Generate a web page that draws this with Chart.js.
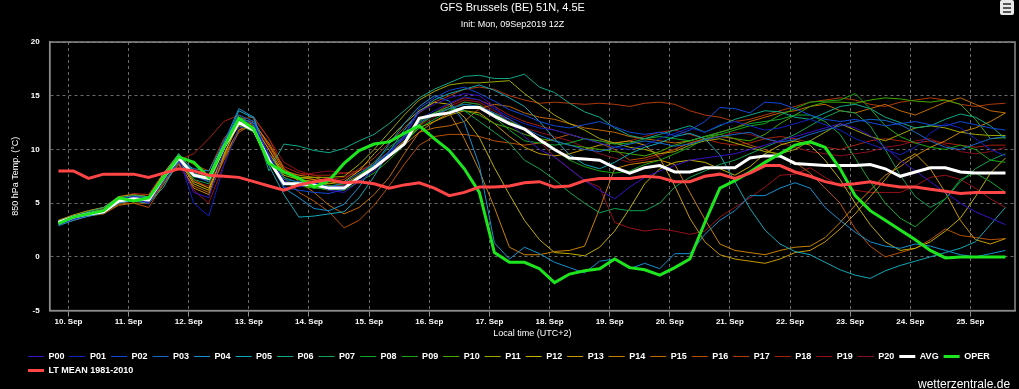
<!DOCTYPE html>
<html>
<head>
<meta charset="utf-8">
<script src="https://cdn.jsdelivr.net/npm/chart.js@4.4.0/dist/chart.umd.min.js"></script>
<style>
  html, body { margin: 0; padding: 0; background: #000; }
  #wrap { position: relative; width: 1019px; height: 389px; overflow: hidden; }
  #menu { position: absolute; left: 1000px; top: 0; width: 14px; height: 15px; background: #e8e8e8; border-radius: 2px; }
  #menu span { position: absolute; left: 3px; width: 8px; height: 2px; background: #555; }
  #credit { position: absolute; left: 918px; top: 377px; font: 12px "Liberation Sans", Arial, sans-serif; color: #fff; }
</style>
</head>
<body>
<div id="wrap">
  <canvas id="chart-ens" width="1019" height="389"></canvas>
  <div id="menu"><span style="top:3px"></span><span style="top:7px"></span><span style="top:11px"></span></div>
  <div id="credit">wetterzentrale.de</div>
</div>
<script>
// hours since 10 Sep 00:00 local, one step every 6h (09Sep 20h .. 25Sep 14h)
const runHours = Array.from({ length: 64 }, (_, i) => -4 + 6 * i);
const dayLabels = ['10. Sep', '11. Sep', '12. Sep', '13. Sep', '14. Sep', '15. Sep', '16. Sep', '17. Sep',
                   '18. Sep', '19. Sep', '20. Sep', '21. Sep', '22. Sep', '23. Sep', '24. Sep', '25. Sep'];

const p00 = [3.0,3.5,3.9,4.3,5.3,5.5,5.0,7.2, 9.0,6.0,5.5,9.8,12.8,12.0,9.5,7.0, 6.5,6.8,6.2,6.0,7.0,8.0,9.5,11.2,
             13.5,14.2,14.8,15.2,15.0,14.0,12.5,11.2, 10.0,9.3,8.2,7.1,6.2,5.4,6.5,7.4, 8.0,8.5,9.0,9.2,9.4,9.6,10.0,10.4,
             10.8,11.2,11.6,12.0,12.4,12.0,11.3,10.2, 9.0,8.0,7.0,6.0,5.0,4.2,3.6,3.0];
const p01 = [3.1,3.6,4.0,4.4,5.4,5.6,5.4,7.6, 9.3,5.0,3.8,8.5,12.0,12.3,9.6,7.0, 6.8,6.9,6.5,6.6,7.2,8.4,9.8,11.0,
             12.8,13.6,14.3,14.9,14.6,13.8,13.0,12.4, 12.0,11.8,11.4,11.0,10.6,10.2,10.0,10.4, 11.0,11.5,12.0,11.6,12.3,12.6,12.2,11.8,
             12.0,12.4,12.8,12.3,11.8,11.0,10.5,10.0, 9.5,10.2,11.5,12.4,12.0,11.0,10.0,9.4];
const p02 = [3.3,3.8,4.1,4.3,5.2,5.3,5.1,7.0, 8.8,7.5,7.0,10.5,12.9,12.4,9.2,6.5, 6.2,6.0,5.9,6.3,7.3,8.4,9.6,11.3,
             13.8,14.8,15.5,15.8,15.2,14.5,13.7,13.2, 12.6,12.2,12.0,12.3,12.6,12.1,11.6,11.4, 11.6,11.3,11.8,12.6,13.9,13.8,13.4,14.4,
             14.3,13.8,13.2,12.8,12.6,12.8,12.5,12.2, 12.4,12.6,12.3,12.2,12.6,12.3,12.0,11.8];
const p03 = [3.0,3.5,3.9,4.2,5.1,5.6,5.5,7.5, 9.4,7.8,7.2,10.8,13.2,12.6,9.4,7.2, 7.0,6.8,6.5,6.9,7.8,8.6,9.8,11.0,
             12.5,13.2,13.8,14.2,14.0,13.4,12.8,12.0, 11.3,10.8,10.4,10.0,9.8,10.2,10.5,10.8, 10.6,10.3,10.5,10.9,11.2,11.4,11.6,11.0,
             10.7,10.9,11.4,11.8,12.2,12.6,12.8,12.7, 12.3,11.6,10.8,10.2,10.0,10.5,11.0,11.2];
const p04 = [2.9,3.4,3.8,4.1,5.0,5.3,5.2,7.3, 9.0,8.2,8.0,10.6,13.8,13.0,9.0,6.4, 5.5,4.5,4.3,4.9,6.5,8.6,10.5,12.4,
             14.0,15.0,14.5,12.5,8.5,1.3,-0.2,0.9, 0.3,-0.5,-1.0,-1.5,-0.4,-0.2,-1.1,-0.6, -1.1,0.3,0.3,2.1,3.4,4.3,5.7,5.7,
             6.4,6.9,6.4,4.6,3.4,2.3,1.4,1.0, 0.8,1.2,1.0,0.6,0.2,0.0,0.3,0.6];
const p05 = [3.0,3.5,3.8,4.1,5.1,5.2,5.0,6.5, 9.0,8.0,7.5,10.3,13.6,12.9,8.5,5.8, 3.7,3.8,4.0,4.2,5.5,7.5,9.8,11.8,
             13.5,14.6,15.2,15.6,16.0,15.5,14.8,14.0, 12.6,11.0,9.5,8.6,8.2,8.8,9.6,10.2, 10.6,11.2,11.5,11.0,9.5,7.0,4.5,2.5,
             1.2,0.5,0.2,-0.5,-1.2,-1.7,-2.0,-1.3, -0.8,-0.4,0.0,0.4,0.8,1.4,3.0,4.6];
const p06 = [3.3,3.8,4.2,4.6,5.5,5.7,5.6,7.6, 9.6,8.0,7.6,10.6,13.0,12.4,8.0,10.5, 10.3,9.9,9.7,10.1,10.8,11.4,12.4,13.6,
             14.8,15.6,16.2,16.8,16.9,16.6,16.6,17.0, 15.8,15.3,14.3,13.5,13.0,12.0,11.3,11.0, 11.4,11.8,12.2,11.6,12.2,12.8,13.2,13.6,
             13.5,13.0,12.8,13.4,14.0,14.2,13.8,13.0, 12.5,12.0,12.2,12.8,13.3,13.0,12.2,11.0];
const p07 = [3.1,3.6,4.0,4.3,5.3,5.2,5.4,7.3, 9.2,7.2,6.8,10.0,12.6,11.9,9.4,7.4, 6.9,6.6,6.3,6.4,7.6,8.8,10.2,11.2,
             12.6,13.4,14.0,13.6,12.6,11.6,10.6,9.0, 8.2,7.2,6.0,5.0,4.1,4.5,4.3,4.3, 5.0,6.5,7.4,8.0,8.6,9.0,9.6,10.2,
             10.8,11.4,12.2,13.0,13.6,13.4,12.2,10.0, 7.6,5.6,4.6,5.4,7.0,8.2,9.0,9.6];
const p08 = [3.2,3.7,4.1,4.4,5.3,5.6,5.3,7.2, 9.3,7.6,7.0,10.2,12.4,12.0,9.2,7.0, 6.9,7.0,6.6,6.8,7.4,8.6,9.6,10.6,
             12.0,12.8,13.6,14.4,14.2,13.0,11.8,10.8, 10.6,10.4,10.6,11.0,10.8,10.5,10.6,11.0, 11.2,11.0,10.8,11.2,11.6,12.0,12.4,12.6,
             12.8,13.2,13.2,12.6,11.4,9.2,7.0,5.0, 3.6,2.8,4.0,5.4,7.2,7.8,7.0,6.0];
const p09 = [3.0,3.6,4.0,4.2,5.2,5.4,5.3,7.5, 9.5,7.4,7.4,10.4,12.3,11.6,9.0,7.0, 6.6,6.4,6.3,6.2,7.0,7.8,9.0,10.4,
             12.3,13.2,13.8,14.2,14.0,13.3,12.6,12.0, 11.0,10.0,9.0,8.4,8.0,7.8,8.0,8.6, 9.0,9.6,10.2,11.0,11.4,11.8,12.2,12.4,
             13.2,13.8,14.4,14.5,14.6,15.2,13.8,12.2, 11.2,10.6,10.2,10.0,10.4,10.0,9.0,8.8];
const p10 = [3.2,3.6,4.1,4.3,5.4,5.5,5.5,7.6, 9.4,7.8,7.4,10.4,12.8,12.1,9.0,6.8, 6.6,6.5,6.2,6.4,7.6,8.6,9.8,11.2,
             12.8,13.4,13.8,13.6,13.2,12.4,12.0,11.4, 11.0,10.8,10.4,10.2,10.0,9.8,9.6,9.4, 9.8,10.4,10.8,11.2,11.4,11.0,10.8,11.4,
             12.4,13.2,14.0,14.4,14.4,14.3,14.6,14.8, 14.7,14.5,14.4,14.6,14.2,12.8,11.0,11.1];
const p11 = [3.4,3.9,4.3,4.6,5.6,5.8,5.6,7.8, 9.6,7.6,7.0,10.0,12.2,11.8,9.6,7.8, 7.4,7.4,7.4,7.5,8.6,10.0,11.6,13.2,
             14.6,15.4,16.0,16.2,16.2,16.3,16.4,15.2, 14.2,13.2,12.4,11.8,11.0,10.6,10.2,10.0, 9.6,9.8,10.4,10.8,11.0,10.6,10.2,9.8,
             9.6,10.0,10.8,11.6,12.4,11.8,11.2,10.8, 11.4,12.0,12.2,12.0,11.6,11.4,11.3,11.3];
const p12 = [3.1,3.6,4.0,4.3,5.2,5.5,5.6,7.6, 9.0,6.8,6.2,9.4,12.6,12.0,9.6,7.6, 7.2,7.0,6.8,7.0,8.0,9.6,11.0,12.4,
             13.6,14.4,14.2,13.0,11.1,8.3,5.8,3.4, 1.6,0.4,0.3,0.1,0.9,2.4,4.5,6.8, 8.2,8.8,9.0,8.8,8.2,7.6,8.4,9.6,
             10.4,10.8,10.4,9.0,7.2,5.0,3.0,1.4, 0.6,0.8,1.4,2.4,3.6,5.6,7.8,9.2];
const p13 = [3.2,3.7,4.1,4.4,5.4,5.6,5.4,7.2, 9.2,7.0,6.4,9.6,12.4,12.2,10.0,7.8, 7.4,7.2,6.6,6.6,7.4,8.4,9.6,10.8,
             12.0,12.6,13.2,13.6,13.4,12.4,11.2,10.2, 9.6,9.4,9.6,10.0,10.4,10.6,10.8,10.4, 9.2,6.6,3.6,1.4,0.2,-0.2,-0.4,-0.6,
             -0.2,0.4,0.6,1.4,2.6,4.0,5.6,7.2, 8.8,9.6,8.2,6.0,3.4,1.6,1.2,1.7];
const p14 = [3.0,3.5,3.9,4.2,5.0,5.2,5.2,7.0, 8.8,6.4,5.8,9.2,11.8,12.6,10.4,8.0, 7.6,7.4,7.0,6.8,7.6,8.4,9.4,10.4,
             11.6,12.6,13.4,11.0,8.0,4.6,0.9,0.2, 0.2,0.5,0.6,1.0,4.5,8.2,8.6,8.8, 9.0,8.6,6.0,3.5,1.2,0.6,0.4,0.2,
             0.6,0.9,1.0,1.8,3.2,4.8,6.2,7.6, 8.4,9.4,10.2,10.8,11.6,12.0,12.6,13.4];
const p15 = [3.0,3.4,3.8,4.0,4.8,5.0,5.0,6.8, 8.6,6.6,6.0,9.0,11.6,12.4,10.6,8.2, 7.0,6.0,4.8,4.0,4.6,5.8,7.4,9.6,
             11.6,12.0,12.2,12.6,13.8,14.2,14.0,13.4, 13.0,12.8,12.4,12.0,11.8,11.6,11.2,11.0, 10.8,10.6,10.8,11.2,11.6,12.0,12.6,13.0,
             13.4,13.6,14.0,14.2,13.6,13.4,13.8,14.2, 13.6,13.2,13.8,14.4,14.8,14.2,13.6,13.4];
const p16 = [3.1,3.5,3.9,4.1,4.9,5.0,4.6,6.8, 8.8,7.2,6.4,9.4,11.8,12.2,10.0,7.4, 6.0,5.2,4.2,2.7,3.4,4.8,6.6,8.6,
             10.4,11.2,11.4,11.4,11.2,10.8,10.6,10.4, 10.6,11.0,11.4,11.0,10.6,10.0,9.0,9.2, 9.6,10.0,10.6,11.0,11.2,11.0,10.4,10.0,
             9.4,8.8,7.8,6.4,5.0,2.6,1.0,0.0, 0.4,0.8,1.6,2.6,2.0,1.8,1.6,1.7];
const p17 = [3.3,3.8,4.1,4.5,5.4,5.7,5.8,7.8, 9.4,8.6,8.0,11.0,12.8,13.0,11.0,8.2, 7.4,7.2,7.0,7.2,8.2,9.2,10.6,12.0,
             13.4,14.4,15.0,15.6,15.8,15.6,15.0,14.6, 14.3,14.4,14.3,14.2,14.3,14.2,14.0,14.3, 14.4,14.2,13.6,13.2,13.0,12.6,12.8,13.2,
             13.6,14.0,14.4,14.6,14.8,14.6,14.2,14.0, 14.4,14.6,14.8,14.6,14.2,14.0,14.2,14.3];
const p18 = [3.4,3.9,4.3,4.6,5.6,5.9,5.8,7.8, 9.0,9.6,11.0,12.6,13.2,12.2,10.4,8.4, 7.8,7.6,7.6,7.8,8.0,8.6,9.4,10.6,
             12.2,13.4,14.2,14.8,14.6,14.0,13.2,12.6, 12.2,11.8,11.4,11.0,10.8,10.6,10.8,11.2, 11.6,11.8,11.4,11.0,10.6,10.4,10.6,11.0,
             11.2,11.0,10.6,10.2,10.0,10.4,10.8,11.0, 10.8,10.6,10.8,10.6,10.4,10.2,10.4,10.4];
const p19 = [3.0,3.5,3.9,4.2,5.2,5.3,5.0,7.0, 8.6,6.2,5.0,8.6,12.0,12.8,11.0,8.8, 8.0,7.6,7.2,7.4,8.0,8.8,9.8,11.0,
             12.4,13.4,14.0,14.6,14.4,13.6,12.8,11.8, 10.8,9.3,8.2,7.1,6.5,3.2,2.7,2.4, 2.6,2.4,2.1,2.4,3.7,4.6,5.5,6.5,
             7.6,7.7,8.3,7.4,6.6,6.2,6.0,6.0, 6.0,6.6,7.4,7.6,7.2,6.4,5.4,4.6];
const p20 = [3.2,3.6,4.0,4.4,5.3,5.6,5.5,7.4, 8.8,7.0,6.6,10.0,12.8,12.6,10.2,8.0, 7.6,7.8,8.0,7.8,7.6,8.2,9.2,10.8,
             12.2,13.0,13.8,14.4,14.2,13.4,12.6,12.0, 11.6,11.2,10.8,10.2,9.6,9.2,8.8,9.0, 9.4,10.0,10.6,11.0,11.2,11.6,11.4,11.0,
             10.6,10.2,9.8,9.6,9.4,9.6,9.8,10.2, 10.4,10.8,11.0,10.4,9.8,9.6,9.8,10.2];

const avg = [3.2,3.7,4.0,4.2,5.2,5.4,5.3,7.4, 9.2,7.6,7.3,10.2,12.5,11.8,9.0,6.8, 6.8,6.7,6.4,6.4,7.4,8.3,9.4,10.5,
             12.9,13.2,13.4,13.9,13.9,13.1,12.4,11.9, 10.9,10.0,9.2,9.1,9.0,8.3,7.8,8.3, 8.5,7.9,7.9,8.3,8.3,8.3,9.2,9.4,
             9.4,8.7,8.6,8.5,8.5,8.5,8.6,8.2, 7.5,7.9,8.3,8.3,7.9,7.8,7.8,7.8];
const oper = [3.1,3.7,4.0,4.3,5.5,5.2,5.5,7.4, 9.3,8.8,7.4,10.2,12.9,11.9,8.7,7.9, 7.3,6.5,7.1,8.7,9.9,10.5,10.7,11.5,
              12.2,11.0,9.9,8.2,6.0,0.4,-0.5,-0.5, -1.1,-2.4,-1.6,-1.3,-1.1,-0.2,-1.0,-1.2, -1.7,-1.0,-0.2,3.2,6.4,7.1,7.9,8.8,
              9.6,10.4,10.7,10.2,8.2,5.7,4.3,3.4, 2.5,1.6,0.6,-0.1,0.0,0.0,0.0,0.0];
const ltMean = [8.0,8.0,7.3,7.7,7.7,7.7,7.4,7.8, 8.2,8.0,7.6,7.5,7.4,7.0,6.6,6.2, 6.7,7.0,7.2,6.9,7.0,6.8,6.4,6.7,
                6.9,6.4,5.7,6.0,6.5,6.5,6.6,6.9, 7.0,6.5,6.6,7.1,7.3,7.3,7.3,7.5, 7.4,7.0,7.0,7.5,7.7,7.3,7.8,8.5,
                8.5,7.9,7.5,7.0,6.7,6.8,7.0,6.7, 6.5,6.5,6.3,6.1,5.9,6.0,6.0,6.0];

const memberNames = ['P00','P01','P02','P03','P04','P05','P06','P07','P08','P09','P10',
                     'P11','P12','P13','P14','P15','P16','P17','P18','P19','P20'];
const memberValues = [p00,p01,p02,p03,p04,p05,p06,p07,p08,p09,p10,p11,p12,p13,p14,p15,p16,p17,p18,p19,p20];
const memberColors = ['#3a10c8','#1020c0','#1048d8','#1468c8','#1490d0','#10a8b8','#10a888','#10a050','#10a830','#18a810','#40a800',
                      '#a0a800','#c0b000','#c89800','#c88000','#c06800','#b85000','#b03a08','#a82010','#981018','#881020'];

Chart.defaults.font.family = '"Liberation Sans", Arial, sans-serif';

const toPoints = vals => runHours.map((h, i) => ({ x: h, y: vals[i] }));

const line = (label, vals, color, width, order) => ({
  label: label,
  data: toPoints(vals),
  borderColor: color,
  backgroundColor: color,
  borderWidth: width,
  pointRadius: 0,
  tension: 0,
  order: order
});

const datasets = memberNames.map((n, k) => line(n, memberValues[k], memberColors[k], 1, 3));
datasets.push(line('AVG', avg, '#ffffff', 3, 2));
datasets.push(line('OPER', oper, '#1ee61e', 3, 1));
datasets.push(line('LT MEAN 1981-2010', ltMean, '#ff4545', 3, 0));

// grey frame round the plot area, legend nudged right like the original
const frame = {
  id: 'frame',
  beforeDraw(chart) {
    chart.legend.left = 23;
  },
  afterDatasetsDraw(chart) {
    const { ctx, chartArea: a } = chart;
    ctx.save();
    ctx.strokeStyle = '#8c8c8c';
    ctx.lineWidth = 1.5;
    ctx.strokeRect(a.left, a.top, a.right - a.left, a.bottom - a.top);
    ctx.restore();
  }
};

new Chart(document.getElementById('chart-ens'), {
  type: 'line',
  data: { datasets: datasets },
  plugins: [frame],
  options: {
    responsive: false,
    animation: false,
    layout: { padding: { left: 10, right: 4, top: 0, bottom: 4 } },
    plugins: {
      title: { display: true, text: 'GFS Brussels (BE) 51N, 4.5E', color: '#fff',
               font: { size: 11, weight: 'normal' }, padding: { top: 1, bottom: 5 } },
      subtitle: { display: true, text: 'Init: Mon, 09Sep2019 12Z', color: '#fff',
                  font: { size: 9 }, padding: { top: 0, bottom: 12 } },
      legend: { position: 'bottom', align: 'start',
                labels: { color: '#fff', font: { size: 9, weight: 'bold' }, usePointStyle: true, pointStyle: 'line',
                          pointStyleWidth: 16, padding: 5, sort: (a, b) => a.datasetIndex - b.datasetIndex } },
      tooltip: { enabled: false }
    },
    scales: {
      x: {
        type: 'linear', min: -7.5, max: 377.8,
        afterBuildTicks: s => { s.ticks = dayLabels.map((_, k) => ({ value: k * 24 })); },
        ticks: { color: '#fff', font: { size: 8, weight: 'bold' }, padding: 0, maxRotation: 0, autoSkip: false,
                 callback: v => dayLabels[Math.round(v / 24)] },
        grid: { color: '#6a6a6a', tickColor: '#8c8c8c', tickLength: 6, tickBorderDash: [] },
        border: { color: '#8c8c8c', width: 1.5, dash: [3, 3] },
        title: { display: true, text: 'Local time (UTC+2)', color: '#fff', font: { size: 9 }, padding: { top: 2, bottom: 8 } }
      },
      y: {
        min: -5, max: 20,
        ticks: { stepSize: 5, color: '#fff', font: { size: 8, weight: 'bold' }, padding: 10 },
        grid: { color: '#6a6a6a', drawTicks: false },
        border: { color: '#8c8c8c', width: 1.5, dash: [3, 3] },
        title: { display: true, text: '850 hPa Temp. (°C)', color: '#fff', font: { size: 9 }, padding: { top: 0, bottom: 0 } }
      }
    }
  }
});
</script>
</body>
</html>
